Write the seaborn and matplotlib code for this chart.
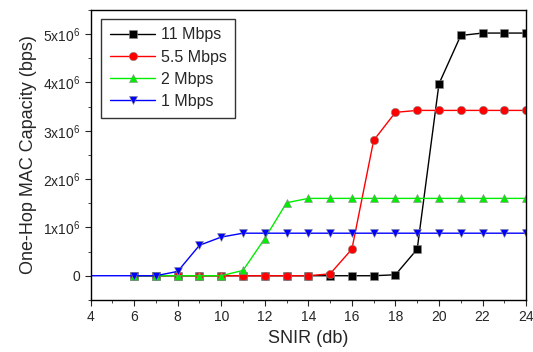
import numpy as np
import pandas as pd
import seaborn as sns
import matplotlib.pyplot as plt
from matplotlib.ticker import MultipleLocator

snir = [6, 7, 8, 9, 10, 11, 12, 13, 14, 15, 16, 17, 18, 19, 20, 21, 22, 23, 24]
cap_11 = [0, 0, 0, 0, 0, 0, 0, 0, 0, 0, 0, 0, 0.02e6, 0.55e6, 3.97e6, 4.97e6, 5.02e6, 5.02e6, 5.02e6]
cap_55 = [0, 0, 0, 0, 0, 0, 0, 0, 0, 0.04e6, 0.55e6, 2.8e6, 3.38e6, 3.42e6, 3.42e6, 3.42e6, 3.42e6, 3.42e6, 3.42e6]
cap_2 = [0, 0, 0, 0, 0, 0.11e6, 0.77e6, 1.51e6, 1.6e6, 1.6e6, 1.6e6, 1.6e6, 1.6e6, 1.6e6, 1.6e6, 1.6e6, 1.6e6, 1.6e6, 1.6e6]
# 1 Mbps line starts left of the visible range
snir_1 = [2] + snir
cap_1 = [0, 0, 0, 0.09e6, 0.63e6, 0.8e6, 0.88e6, 0.88e6, 0.88e6, 0.88e6, 0.88e6, 0.88e6, 0.88e6, 0.88e6, 0.88e6, 0.88e6, 0.88e6, 0.88e6, 0.88e6, 0.88e6]

labels = ['11 Mbps', '5.5 Mbps', '2 Mbps', '1 Mbps']
colors = ['black', 'red', '#00ee00', 'blue']
markers = ['s', 'o', '^', 'v']

df = pd.concat([
    pd.DataFrame({'snir': snir, 'cap': cap_11, 'rate': labels[0]}),
    pd.DataFrame({'snir': snir, 'cap': cap_55, 'rate': labels[1]}),
    pd.DataFrame({'snir': snir, 'cap': cap_2, 'rate': labels[2]}),
    pd.DataFrame({'snir': snir_1, 'cap': cap_1, 'rate': labels[3]}),
])

sns.set_style('ticks')
plt.rcParams['font.family'] = ['Liberation Sans', 'DejaVu Sans']
plt.rcParams['mathtext.fontset'] = 'custom'
plt.rcParams['mathtext.rm'] = 'Liberation Sans'

fig = plt.figure(figsize=(5.33, 3.52), dpi=100)
ax = fig.add_axes([0.170, 0.148, 0.817, 0.824])

sns.lineplot(
    data=df, x='snir', y='cap', hue='rate', style='rate',
    hue_order=labels, style_order=labels,
    palette=dict(zip(labels, colors)),
    markers=dict(zip(labels, markers)), dashes=False,
    markersize=6, linewidth=1, markeredgecolor='#888888', markeredgewidth=0.4,
    ax=ax
)

ax.set_xlim(4, 24)
ax.set_ylim(-0.5e6, 5.5e6)
ax.xaxis.set_major_locator(MultipleLocator(2))
ax.xaxis.set_minor_locator(MultipleLocator(1))
ax.yaxis.set_major_locator(MultipleLocator(1e6))
ax.yaxis.set_minor_locator(MultipleLocator(0.5e6))
ax.set_yticks([0, 1e6, 2e6, 3e6, 4e6, 5e6])
ax.set_yticklabels(['0'] + [f'{i}x10$^{{6}}$' for i in range(1, 6)])
ax.tick_params(which='both', direction='out', labelsize=10)
ax.tick_params(which='major', length=4)
ax.tick_params(which='minor', length=2.5)
for s in ax.spines.values():
    s.set_color('black')
    s.set_linewidth(1)

ax.set_xlabel('SNIR (db)', fontsize=13)
ax.set_ylabel('One-Hop MAC Capacity (bps)', fontsize=13)

leg = ax.legend(loc='upper left', fontsize=11.5, frameon=True, fancybox=False,
                edgecolor='black', handlelength=2.8, handletextpad=0.35,
                labelspacing=0.45, borderpad=0.55, borderaxespad=0,
                bbox_to_anchor=(0.025, 0.97))
leg.get_frame().set_linewidth(1)

plt.savefig('out.png', dpi=100)
